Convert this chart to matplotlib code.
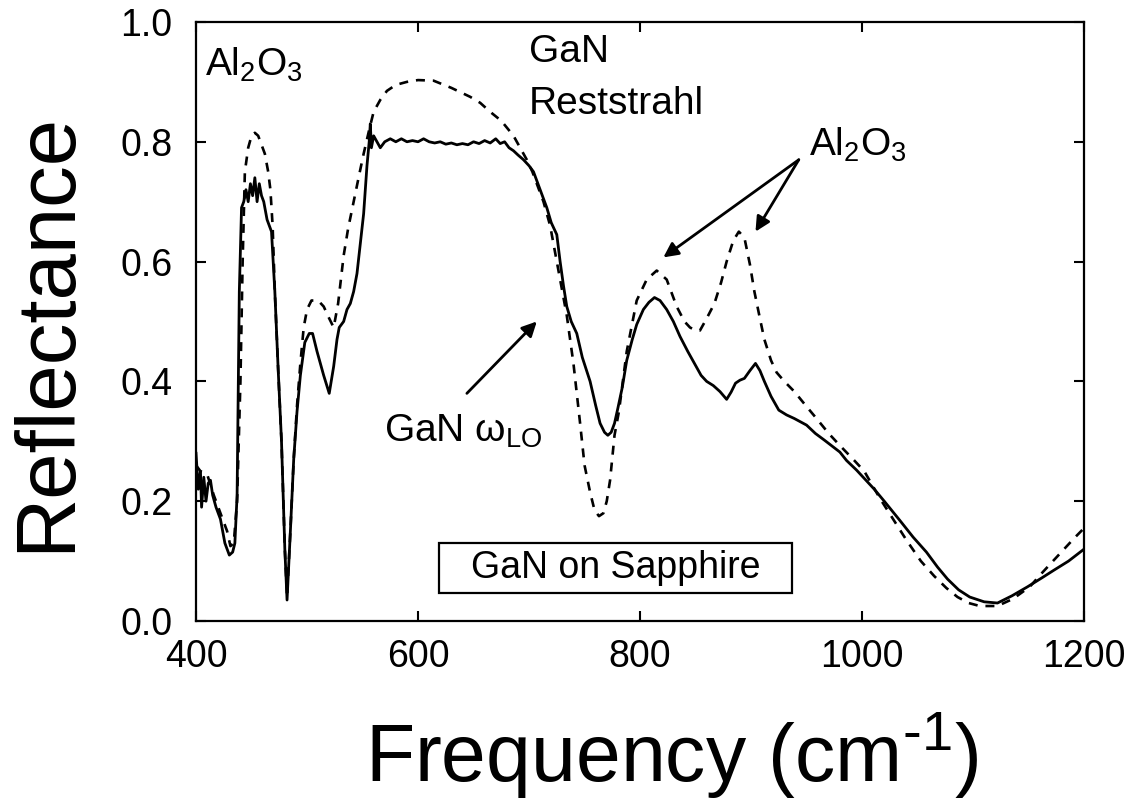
import matplotlib
matplotlib.use('Agg')
import matplotlib.pyplot as plt
from matplotlib.patches import Rectangle

plt.rcParams['font.family'] = ['Liberation Sans', 'DejaVu Sans']
plt.rcParams['mathtext.fontset'] = 'custom'
plt.rcParams['mathtext.rm'] = 'Liberation Sans'
plt.rcParams['mathtext.it'] = 'Liberation Sans:italic'

# measured reflectance (solid), GaN on sapphire
meas_freq = [400, 402, 404, 405, 407, 409, 411, 413, 415, 418, 422, 426, 430, 433, 435, 437,
             439, 441, 443, 445, 447, 449, 451, 453, 455, 457, 459, 461, 464, 468, 471, 474,
             477, 480, 482, 485, 488, 491, 494, 498, 502, 505, 509, 515, 520, 524, 527, 529,
             533, 536, 539, 542, 545, 548, 551, 554, 556, 557, 558, 560, 563, 566, 570, 575,
             580, 585, 590, 595, 600, 605, 610, 615, 620, 625, 630, 635, 640, 645, 650, 655,
             660, 665, 670, 674, 678, 682, 686, 690, 695, 700, 704, 708, 712, 716, 720, 725,
             728, 731, 734, 738, 743, 748, 755, 760, 764, 768, 771, 774, 777, 780, 784, 788,
             793, 797, 803, 808, 813, 818, 824, 830, 836, 843, 849, 855, 860, 866, 872, 878,
             882, 886, 890, 894, 899, 904, 908, 912, 918, 925, 932, 939, 945, 950, 958, 966,
             973, 980, 986, 995, 1003, 1011, 1020, 1034, 1046, 1058, 1068, 1077, 1087, 1097,
             1110, 1122, 1135, 1149, 1162, 1173, 1186, 1200]
meas_refl = [0.28, 0.22, 0.25, 0.19, 0.24, 0.20, 0.23, 0.235, 0.21, 0.19, 0.17, 0.13, 0.11, 0.115, 0.13, 0.21,
             0.55, 0.69, 0.70, 0.72, 0.70, 0.73, 0.71, 0.74, 0.70, 0.73, 0.71, 0.70, 0.67, 0.65, 0.55, 0.42,
             0.30, 0.12, 0.035, 0.15, 0.27, 0.35, 0.41, 0.465, 0.48, 0.48, 0.45, 0.41, 0.38, 0.425, 0.47, 0.49,
             0.50, 0.52, 0.53, 0.55, 0.58, 0.63, 0.68, 0.76, 0.80, 0.83, 0.79, 0.81, 0.80, 0.79, 0.80, 0.805,
             0.80, 0.805, 0.80, 0.802, 0.80, 0.805, 0.80, 0.798, 0.80, 0.796, 0.798, 0.795, 0.797, 0.795, 0.80, 0.797,
             0.802, 0.798, 0.805, 0.797, 0.80, 0.79, 0.785, 0.778, 0.77, 0.76, 0.75, 0.73, 0.71, 0.69, 0.665, 0.645,
             0.60, 0.56, 0.525, 0.50, 0.48, 0.44, 0.40, 0.36, 0.33, 0.315, 0.31, 0.315, 0.33, 0.355, 0.39, 0.435,
             0.47, 0.495, 0.52, 0.532, 0.54, 0.535, 0.52, 0.50, 0.475, 0.45, 0.43, 0.41, 0.40, 0.393, 0.383, 0.37,
             0.382, 0.397, 0.402, 0.405, 0.418, 0.43, 0.418, 0.40, 0.375, 0.352, 0.344, 0.338, 0.332, 0.327, 0.313, 0.302,
             0.292, 0.282, 0.268, 0.252, 0.236, 0.22, 0.20, 0.168, 0.14, 0.115, 0.09, 0.07, 0.052, 0.04,
             0.032, 0.03, 0.042, 0.057, 0.072, 0.085, 0.1, 0.12]

# calculated reflectance (dashed)
calc_freq = [400, 404, 410, 416, 421, 425, 428, 431, 434, 437, 440, 442, 444, 447, 450, 453,
             456, 459, 462, 465, 467, 469, 471, 474, 477, 480, 482, 485, 488, 491, 494, 497,
             500, 504, 510, 515, 520, 524, 528, 533, 537, 542, 547, 551, 556, 560, 566, 572,
             580, 590, 600, 614, 630, 647, 656, 665, 675, 686, 692, 698, 703, 707, 713, 719,
             724, 728, 734, 740, 746, 750, 755, 759, 763, 767, 770, 773, 777, 781, 788, 797,
             806, 815, 824, 833, 840, 845, 850, 854, 860, 867, 873, 878, 884, 889, 894, 899,
             903, 908, 912, 918, 923, 930, 939, 950, 959, 970, 980, 993, 1002, 1016, 1028, 1040,
             1053, 1065, 1076, 1086, 1096, 1106, 1122, 1136, 1151, 1163, 1173, 1183, 1191, 1200]
calc_refl = [0.26, 0.25, 0.245, 0.21, 0.185, 0.165, 0.15, 0.125, 0.13, 0.20, 0.40, 0.60, 0.75, 0.79, 0.81, 0.815,
             0.81, 0.795, 0.78, 0.75, 0.72, 0.66, 0.55, 0.42, 0.30, 0.12, 0.04, 0.15, 0.27, 0.36, 0.43, 0.49,
             0.52, 0.535, 0.535, 0.525, 0.505, 0.49, 0.53, 0.61, 0.655, 0.70, 0.745, 0.78, 0.82, 0.85, 0.87, 0.885,
             0.895, 0.90, 0.903, 0.902, 0.89, 0.875, 0.865, 0.85, 0.835, 0.81, 0.79, 0.77, 0.75, 0.73, 0.70, 0.66,
             0.61, 0.57, 0.51, 0.43, 0.33, 0.26, 0.215, 0.185, 0.175, 0.18, 0.20, 0.235, 0.31, 0.35, 0.45, 0.535,
             0.57, 0.585, 0.57, 0.525, 0.50, 0.49, 0.485, 0.485, 0.505, 0.53, 0.565, 0.60, 0.635, 0.65, 0.64, 0.595,
             0.55, 0.505, 0.47, 0.435, 0.415, 0.40, 0.383, 0.358, 0.338, 0.313, 0.293, 0.268, 0.25, 0.205, 0.17, 0.135,
             0.1, 0.075, 0.055, 0.04, 0.03, 0.025, 0.025, 0.037, 0.057, 0.082, 0.102, 0.122, 0.138, 0.155]

x_ticks = [400, 600, 800, 1000, 1200]
y_ticks = [0.0, 0.2, 0.4, 0.6, 0.8, 1.0]

fig = plt.figure(figsize=(11.41, 8.02), dpi=100)
ax = fig.add_axes([0.1718, 0.2257, 0.7783, 0.7469])

ax.plot(meas_freq, meas_refl, color='black', lw=2.0, solid_joinstyle='round')
ax.plot(calc_freq, calc_refl, color='black', lw=1.9, linestyle=(0, (3.4, 3.0)))

ax.set_xlim(400, 1200)
ax.set_ylim(0, 1.0)
ax.set_xticks(x_ticks)
ax.set_yticks(y_ticks)
ax.set_xticklabels([str(t) for t in x_ticks])
ax.set_yticklabels(['%.1f' % t for t in y_ticks])
ax.tick_params(direction='in', length=7, width=1.5, top=True, right=True, labelsize=27)
ax.tick_params(axis='y', pad=17)
ax.tick_params(axis='x', pad=13)
for sp in ax.spines.values():
    sp.set_linewidth(1.6)

# axis titles placed on the figure
fig.text(47 / 1141, 1 - 332 / 802, 'Reflectance', fontsize=60, rotation=90,
         ha='center', va='center')
fig.text(672 / 1141, 1 - 781 / 802, 'Frequency (cm$^{\\text{-}1}$)', fontsize=58,
         ha='center', va='baseline')

fs = 28
ax.text(408, 0.91, 'Al$_2$O$_3$', fontsize=fs, ha='left', va='baseline')
ax.text(700, 0.933, 'GaN', fontsize=fs, ha='left', va='baseline')
ax.text(700, 0.846, 'Reststrahl', fontsize=fs, ha='left', va='baseline')
ax.text(952, 0.777, 'Al$_2$O$_3$', fontsize=fs, ha='left', va='baseline')
ax.text(569, 0.30, 'GaN \u03c9$_{\\mathrm{LO}}$', fontsize=fs, ha='left', va='baseline')

arrow = dict(arrowstyle='-|>', lw=2.0, color='black', mutation_scale=22, shrinkA=0, shrinkB=0)
ax.annotate('', xy=(707, 0.50), xytext=(644, 0.38), arrowprops=arrow)
ax.annotate('', xy=(821, 0.607), xytext=(943, 0.77), arrowprops=arrow)
ax.annotate('', xy=(904, 0.65), xytext=(943, 0.77), arrowprops=arrow)

ax.add_patch(Rectangle((619, 0.047), 318, 0.083, fill=False, lw=1.6, ec='black'))
ax.text(778, 0.088, 'GaN on Sapphire', fontsize=27, ha='center', va='center')

fig.savefig('out.png', dpi=100)
